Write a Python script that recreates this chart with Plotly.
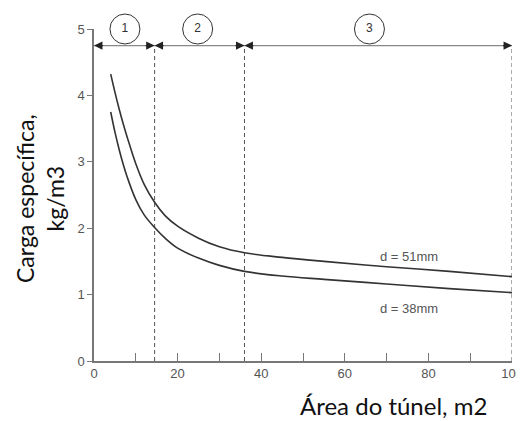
import plotly.graph_objects as go

# ---- data ----
area_51 = [4, 5, 6, 7, 8, 10, 12, 14.5, 17, 20, 25, 30, 36, 45, 55, 70, 85, 100]
load_51 = [4.32, 4.05, 3.80, 3.57, 3.36, 2.97, 2.66, 2.39, 2.19, 2.03, 1.85, 1.72, 1.63, 1.56, 1.50, 1.42, 1.35, 1.27]

area_38 = [4, 5, 6, 7, 8, 10, 12, 14.5, 17, 20, 25, 30, 36, 45, 55, 70, 85, 100]
load_38 = [3.75, 3.45, 3.19, 2.96, 2.76, 2.43, 2.20, 2.01, 1.85, 1.70, 1.55, 1.44, 1.35, 1.28, 1.23, 1.16, 1.09, 1.03]

zone_bounds = [0, 14.5, 36, 100]
zone_labels = ["1", "2", "3"]
zone_label_x = [7.4, 24.8, 65.9]
zone_line_y = 4.75
zone_label_y = 5.0

series_labels = ["d = 51mm", "d = 38mm"]
series_label_x = [75.3, 75.3]
series_label_y = [1.57, 0.79]

x_ticks = [0, 20, 40, 60, 80, 100]
y_ticks = [0, 1, 2, 3, 4, 5]

TXT = "#555555"
AX = "#777777"
LINE = "#333333"
TICKFONT = "Liberation Sans, Arial, sans-serif"
TITLEFONT = "Lato, sans-serif"

fig = go.Figure()

# dashed zone boundaries
for b in zone_bounds[1:]:
    fig.add_trace(go.Scatter(x=[b, b], y=[0, zone_line_y], mode="lines",
                             line=dict(color="#555555", width=1, dash="4px,3px"),
                             showlegend=False, hoverinfo="skip"))

# horizontal zone line
fig.add_trace(go.Scatter(x=[zone_bounds[0], zone_bounds[-1]], y=[zone_line_y, zone_line_y],
                         mode="lines", line=dict(color="#888888", width=1.3),
                         showlegend=False, hoverinfo="skip", cliponaxis=False))

# curves
for xs, ys in ((area_51, load_51), (area_38, load_38)):
    fig.add_trace(go.Scatter(x=xs, y=ys, mode="lines",
                             line=dict(color=LINE, width=1.6, shape="spline", smoothing=1.0),
                             showlegend=False))

# circled zone numbers
fig.add_trace(go.Scatter(x=zone_label_x, y=[zone_label_y] * len(zone_labels), mode="markers+text",
                         text=zone_labels, textposition="middle center",
                         textfont=dict(family=TICKFONT, size=12, color=LINE),
                         marker=dict(symbol="circle-open", size=30, color=LINE, line=dict(width=1)),
                         cliponaxis=False, showlegend=False, hoverinfo="skip"))

annotations = []
# arrow heads at zone ends
for i in range(len(zone_bounds) - 1):
    a, b = zone_bounds[i], zone_bounds[i + 1]
    for tip, tail in ((a, a + 2.5), (b, b - 2.5)):
        annotations.append(dict(x=tip, y=zone_line_y, ax=tail, ay=zone_line_y, xref="x", yref="y",
                                axref="x", ayref="y", text="", showarrow=True, arrowhead=2,
                                arrowsize=1.3, arrowwidth=1.3, arrowcolor="#222222", standoff=0))

for t, x, y in zip(series_labels, series_label_x, series_label_y):
    annotations.append(dict(x=x, y=y, xref="x", yref="y", text=t, showarrow=False,
                            font=dict(family=TICKFONT, size=13, color=TXT)))

# page-pixel positions converted to paper coords (plot area: x 94..512, y 29..361)
annotations.append(dict(x=(393.5 - 94) / 418, y=(361 - 405) / 332, xref="paper", yref="paper",
                        text="Área do túnel, m2", showarrow=False, xanchor="center", yanchor="middle",
                        font=dict(family=TITLEFONT, size=24, color="#111111")))
annotations.append(dict(x=(40 - 94) / 418, y=(361 - 199) / 332, xref="paper", yref="paper",
                        text="Carga específica,<br>kg/m3", showarrow=False, textangle=-90,
                        xanchor="center", yanchor="middle",
                        font=dict(family=TITLEFONT, size=23, color="#111111")))

# page body has an 8px margin: shrink figure so the plot area lands where the reference has it
fig.update_layout(
    width=516, height=413,
    margin=dict(l=86, r=12, t=21, b=60, autoexpand=False),
    paper_bgcolor="white", plot_bgcolor="white",
    annotations=annotations,
    showlegend=False,
)
fig.update_xaxes(range=[0, 100], tickvals=x_ticks, ticks="inside", ticklen=8, tickwidth=1.3, tickcolor=AX,
                 minor=dict(dtick=10, tick0=0, ticks="inside", ticklen=8, tickwidth=1.3, tickcolor=AX),
                 showline=True, linecolor=AX, linewidth=1.5, showgrid=False, zeroline=False,
                 automargin=False,
                 tickfont=dict(family=TICKFONT, size=13, color=TXT))
fig.update_yaxes(range=[0, 5], tickvals=y_ticks, ticks="outside", ticklen=5, tickwidth=1.3, tickcolor=AX,
                 showline=True, linecolor=AX, linewidth=1.5, showgrid=False, zeroline=False,
                 automargin=False,
                 tickfont=dict(family=TICKFONT, size=13, color=TXT))

fig.write_html("out.html")
